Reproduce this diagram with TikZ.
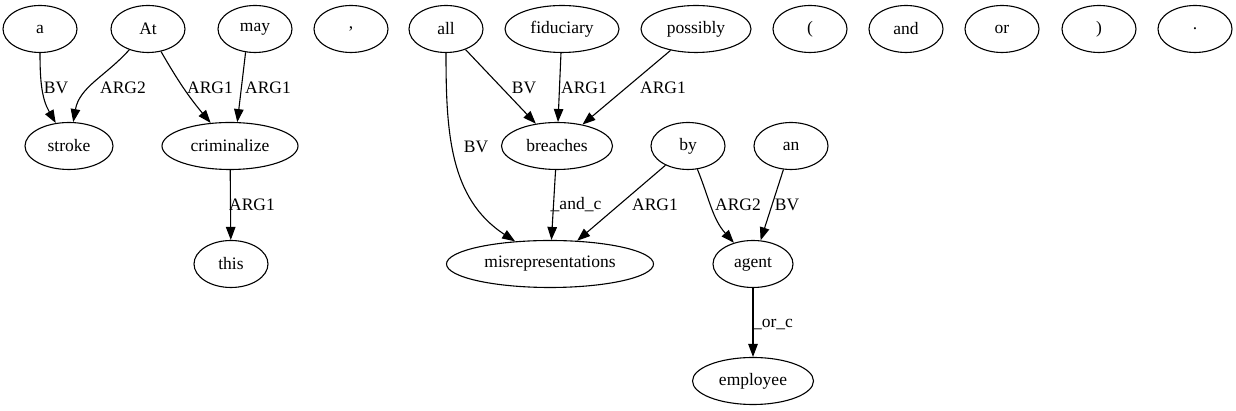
\documentclass[tikz,border=0pt]{standalone}
\usepackage{fontspec}
\setmainfont{Liberation Serif}
\usetikzlibrary{shapes.geometric,arrows.meta}
\begin{document}
\begin{tikzpicture}[x=1pt,y=1pt,
  nd/.style={ellipse,draw,line width=1.1pt,inner sep=0pt,minimum height=47pt,minimum width=74pt,font=\fontsize{17.5}{20}\selectfont},
  lbl/.style={inner sep=0pt,font=\fontsize{17.5}{20}\selectfont},
  edge/.style={line width=1.1pt,-{Triangle[length=13pt,width=9.5pt]}}]
\useasboundingbox (0,0) rectangle (1236,411);
% row 1
\node[nd] (a) at (40,382) {a};
\node[nd] (At) at (148,382) {At};
\node[nd] (may) at (255,382) {may};
\node[nd] (comma) at (351,382) {,};
\node[nd] (all) at (446,382) {all};
\node[nd,minimum width=114pt] (fiduciary) at (562,382) {fiduciary};
\node[nd,minimum width=110pt] (possibly) at (696,382) {possibly};
\node[nd] (lpar) at (810,382) {(};
\node[nd] (and) at (906,382) {and};
\node[nd] (or) at (1002,382) {or};
\node[nd] (rpar) at (1099,382) {)};
\node[nd] (dot) at (1195,382) {.};
% row 2
\node[nd,minimum width=88pt] (stroke) at (69,265) {stroke};
\node[nd,minimum width=136pt] (criminalize) at (230,265) {criminalize};
\node[nd,minimum width=111pt] (breaches) at (557,265) {breaches};
\node[nd] (by) at (688,265) {by};
\node[nd] (an) at (791,265) {an};
% row 3
\node[nd] (this) at (231,147) {this};
\node[nd,minimum width=207pt] (misrep) at (550,147) {misrepresentations};
\node[nd,minimum width=80pt] (agent) at (753,147) {agent};
% row 4
\node[nd,minimum width=121pt] (employee) at (753,30) {employee};
% edges
\draw[edge] (a) to[out=-90,in=120] (stroke);
\draw[edge] (At) to[out=228,in=80] (stroke);
\draw[edge] (At) to[out=-60,in=130] (criminalize);
\draw[edge] (may.-112) -- (criminalize.73);
\draw[edge] (criminalize) -- (this);
\draw[edge] (all) -- (breaches);
\draw[edge] (all) to[out=-90,in=147] (misrep);
\draw[edge] (fiduciary) -- (breaches);
\draw[edge] (possibly) -- (breaches);
\draw[edge] (breaches) -- (misrep);
\draw[edge] (by) -- (misrep);
\draw[edge] (by) to[out=-68,in=132] (agent);
\draw[edge] (an) -- (agent);
\draw[edge] (agent) -- (employee);
% labels
\node[lbl] (l1) at (56,323) {BV};
\node[lbl] (l2) at (123,323) {ARG2};
\node[lbl] (l3) at (210,323) {ARG1};
\node[lbl] (l4) at (268,323) {ARG1};
\node[lbl] (l5) at (252,206) {ARG1};
\node[lbl] (l6) at (524,323) {BV};
\node[lbl] (l7) at (584,323) {ARG1};
\node[lbl] (l8) at (663,323) {ARG1};
\node[lbl] (l9) at (476,264) {BV};
\node[lbl] (l10) at (576,206) {\_and\_c};
\node[lbl] (l11) at (655,206) {ARG1};
\node[lbl] (l12) at (738,206) {ARG2};
\node[lbl] (l13) at (787,206) {BV};
\node[lbl] (l14) at (773,86) {\_or\_c};
\end{tikzpicture}
\end{document}
